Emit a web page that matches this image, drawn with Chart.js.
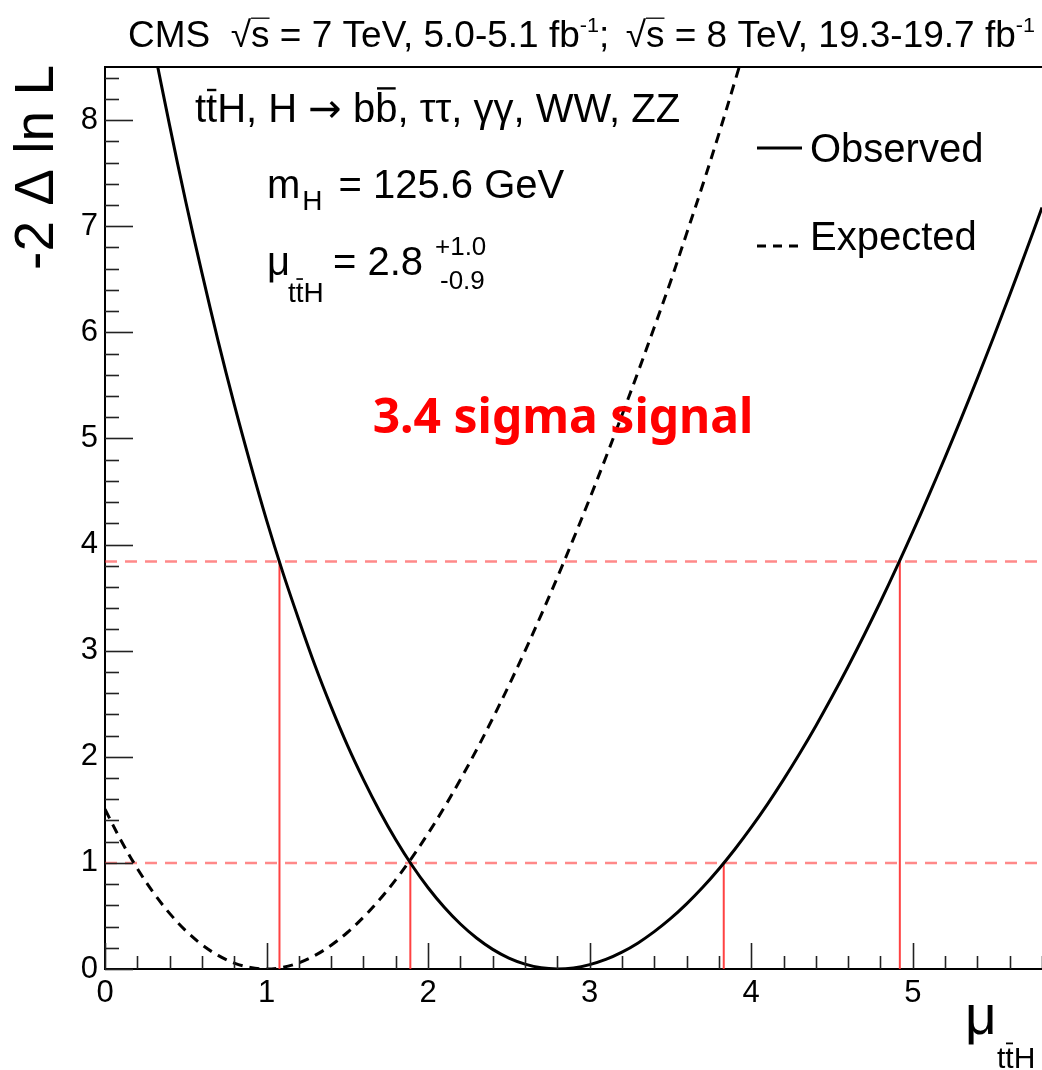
<!DOCTYPE html>
<html><head><meta charset="utf-8">
<script src="https://cdn.jsdelivr.net/npm/chart.js@4/dist/chart.umd.min.js"></script>
<style>html,body{margin:0;padding:0;background:#fff;overflow:hidden}canvas{display:block}</style>
</head><body>
<canvas id="c" width="1042" height="1070"></canvas>
<script>
// ---- data ----
const observedMu = [0.3,0.4,0.5,0.6,0.7,0.8,0.9,1.0,1.1,1.2,1.3,1.4,1.5,1.6,1.7,1.8,1.9,2.0,2.1,2.2,2.3,2.4,2.5,2.6,2.7,2.8,2.9,3.0,3.1,3.2,3.3,3.4,3.5,3.6,3.7,3.8,3.9,4.0,4.1,4.2,4.3,4.4,4.5,4.6,4.7,4.8,4.9,5.0,5.1,5.2,5.3,5.4,5.5,5.6,5.7,5.8,5.9];
const observedNLL = [8.70,7.95,7.23,6.56,5.92,5.32,4.76,4.23,3.74,3.29,2.86,2.47,2.11,1.785,1.487,1.218,0.978,0.766,0.582,0.424,0.292,0.185,0.103,0.046,0.011,0.0,0.010,0.041,0.090,0.159,0.246,0.352,0.474,0.614,0.770,0.943,1.131,1.334,1.552,1.785,2.031,2.291,2.565,2.851,3.150,3.461,3.785,4.119,4.465,4.822,5.189,5.566,5.954,6.352,6.759,7.175,7.600];
const expectedMu = [0.0,0.1,0.2,0.3,0.4,0.5,0.6,0.7,0.8,0.9,1.0,1.1,1.2,1.3,1.4,1.5,1.6,1.7,1.8,1.9,2.0,2.1,2.2,2.3,2.4,2.5,2.6,2.7,2.8,2.9,3.0,3.1,3.2,3.3,3.4,3.5,3.6,3.7,3.8,3.9,4.0];
const expectedNLL = [1.505,1.209,0.947,0.719,0.524,0.361,0.229,0.128,0.056,0.014,0.0,0.015,0.058,0.128,0.224,0.344,0.488,0.654,0.842,1.050,1.277,1.522,1.786,2.066,2.362,2.673,2.998,3.338,3.690,4.055,4.432,4.820,5.219,5.628,6.047,6.475,6.93,7.39,7.87,8.37,8.88];
const levels = [1, 3.84];                       // 68% and 95% CL lines
const intervalMu = [1.08, 1.89, 3.83, 4.92];    // where observed curve crosses the levels
const intervalLevel = [3.84, 1, 1, 3.84];
const xTickLabels = ['0','1','2','3','4','5'];
const yTickLabels = ['0','1','2','3','4','5','6','7','8'];
const xRange = [0, 5.80];
const yRange = [0, 8.5];

const FONT = "'Liberation Sans', Arial, Helvetica, sans-serif";

const datasets = [];
datasets.push({label:'Observed', data: observedMu.map((m,i)=>({x:m,y:observedNLL[i]})),
  borderColor:'#000', borderWidth:3, pointRadius:0, tension:0.35, clip:0, order:1});
datasets.push({label:'Expected', data: expectedMu.map((m,i)=>({x:m,y:expectedNLL[i]})),
  borderColor:'#000', borderWidth:3, borderDash:[10,7], pointRadius:0, tension:0.35, clip:0, order:2});
levels.forEach(l=>datasets.push({label:'level', data:[{x:xRange[0],y:l},{x:xRange[1],y:l}],
  borderColor:'rgba(255,40,40,0.55)', borderWidth:2.5, borderDash:[12,8], pointRadius:0, clip:0, order:3}));
intervalMu.forEach((m,i)=>datasets.push({label:'interval', data:[{x:m,y:0},{x:m,y:intervalLevel[i]}],
  borderColor:'rgba(255,45,45,0.9)', borderWidth:2, pointRadius:0, clip:0, order:3}));

function drawRich(ctx, x, y, parts){
  let cx = x;
  for (const p of parts){
    ctx.font = (p.bold?'bold ':'') + p.size + 'px ' + (p.family||FONT);
    const w = ctx.measureText(p.t).width;
    const by = y + (p.dy||0);
    ctx.fillText(p.t, cx, by);
    if (p.ol){
      ctx.save(); ctx.lineWidth = Math.max(1.2, p.size*0.06);
      const oy = by - p.size*p.ol;
      ctx.beginPath(); ctx.moveTo(cx+ w*0.08, oy); ctx.lineTo(cx + w*0.92, oy); ctx.stroke(); ctx.restore();
    }
    if (p.sqrtOl!==undefined){
      ctx.save(); ctx.lineWidth = 1.3;
      const oy = by - p.size*0.80;
      ctx.beginPath(); ctx.moveTo(cx, oy); ctx.lineTo(cx + w + p.sqrtOl, oy); ctx.stroke(); ctx.restore();
    }
    cx += w + (p.gap||0);
  }
  return cx - x;
}
function measureRich(ctx, parts){
  let w=0; for(const p of parts){ctx.font=(p.bold?'bold ':'')+p.size+'px '+(p.family||FONT); w+=ctx.measureText(p.t).width+(p.gap||0);} return w;
}

const rootPlugin = {
  id:'rootStyle',
  afterDatasetsDraw(chart){
    const {ctx, chartArea:a, scales:{x,y}} = chart;
    ctx.save();
    ctx.strokeStyle='#000'; ctx.lineWidth=2;
    ctx.beginPath(); ctx.moveTo(a.left, a.top); ctx.lineTo(a.right, a.top); ctx.stroke();
    ctx.strokeStyle='#222'; ctx.lineWidth=1.6;
    for (let i=0;i*0.2<=yRange[1]+1e-9;i++){
      const py = Math.round(y.getPixelForValue(i*0.2))+0.5; const L = (i%5===0)?28:14;
      ctx.beginPath(); ctx.moveTo(a.left, py); ctx.lineTo(a.left+L, py); ctx.stroke();
    }
    for (let i=0;i*0.2<=xRange[1]+1e-9;i++){
      const px = Math.round(x.getPixelForValue(i*0.2))+0.5; const L = (i%5===0)?26:13;
      ctx.beginPath(); ctx.moveTo(px, a.bottom); ctx.lineTo(px, a.bottom-L); ctx.stroke();
    }
    ctx.restore();

    ctx.save();
    ctx.fillStyle='#000'; ctx.strokeStyle='#000'; ctx.textBaseline='alphabetic'; ctx.textAlign='left';
    const TS = 36;
    const tparts = [
      {t:'CMS', size:TS, gap:20},
      {t:'\u221A', size:TS},{t:'s', size:TS, sqrtOl:0},
      {t:' = 7 TeV, 5.0-5.1 fb', size:TS},{t:'-1', size:21, dy:-15},
      {t:';', size:TS, gap:16},
      {t:'\u221A', size:TS},{t:'s', size:TS, sqrtOl:0},
      {t:' = 8 TeV, 19.3-19.7 fb', size:TS},{t:'-1', size:21, dy:-15}
    ];
    const tw = measureRich(ctx, tparts);
    ctx.translate(128, 47); ctx.scale(907/tw, 1);
    drawRich(ctx, 0, 0, tparts);
    ctx.restore();

    ctx.save();
    ctx.fillStyle='#000'; ctx.strokeStyle='#000'; ctx.textAlign='left'; ctx.textBaseline='alphabetic';
    drawRich(ctx, 195, 122, [
      {t:'t', size:40},{t:'t', size:40, ol:0.80},{t:'H, H ', size:40},
      {t:'\u2192', size:40, family:"'DejaVu Sans', sans-serif"},{t:' b', size:40},{t:'b', size:40, ol:0.84},
      {t:', \u03C4\u03C4, \u03B3\u03B3, WW, ZZ', size:40}
    ]);
    drawRich(ctx, 267, 198, [{t:'m', size:40, gap:2},{t:'H', size:28, dy:12, gap:16},{t:'= 125.6 GeV', size:40}]);
    drawRich(ctx, 267, 275, [{t:'\u03BC', size:40}]);
    drawRich(ctx, 288, 302, [{t:'t', size:28},{t:'t', size:28, ol:0.82},{t:'H', size:28}]);
    drawRich(ctx, 333, 275, [{t:'= 2.8', size:40}]);
    drawRich(ctx, 435, 255, [{t:'+1.0', size:26}]);
    drawRich(ctx, 440, 289, [{t:'-0.9', size:26}]);
    ctx.lineWidth=3; ctx.beginPath(); ctx.moveTo(757,148); ctx.lineTo(802,148); ctx.stroke();
    ctx.setLineDash([9,7]); ctx.beginPath(); ctx.moveTo(757,246); ctx.lineTo(804,246); ctx.stroke(); ctx.setLineDash([]);
    drawRich(ctx, 810, 162, [{t:'Observed', size:40}]);
    drawRich(ctx, 810, 250, [{t:'Expected', size:40}]);
    ctx.save(); ctx.translate(53, 65); ctx.rotate(-Math.PI/2); ctx.textAlign='right';
    ctx.font = '55px ' + FONT; ctx.fillText('-2 \u0394 ln L', 0, 0); ctx.restore();
    drawRich(ctx, 965, 1034, [{t:'\u03BC', size:55}]);
    drawRich(ctx, 997, 1068, [{t:'t', size:30},{t:'t', size:30, ol:0.82},{t:'H', size:30}]);
    ctx.fillStyle='#ff0000'; ctx.textAlign='center';
    ctx.font = "bold 48px 'Noto Sans', 'Open Sans', sans-serif";
    ctx.fillText('3.4 sigma signal', 563, 433);
    ctx.restore();
  }
};

new Chart(document.getElementById('c'), {
  type:'line',
  data:{datasets},
  options:{
    responsive:false, animation:false, devicePixelRatio:1,
    layout:{padding:{top:67, right:0, left:0, bottom:0}},
    plugins:{legend:{display:false}, tooltip:{enabled:false}, title:{display:false}},
    scales:{
      x:{type:'linear', min:xRange[0], max:xRange[1],
        grid:{display:true, drawOnChartArea:false, drawTicks:false},
        border:{display:true, color:'#000', width:2},
        ticks:{stepSize:1, includeBounds:false, autoSkip:false, maxRotation:0, padding:6, color:'#000',
          font:{family:FONT, size:31},
          callback:(v)=> Number.isInteger(v) && xTickLabels[v]!==undefined ? xTickLabels[v] : ''},
        afterFit:(s)=>{s.height=101;}},
      y:{type:'linear', min:yRange[0], max:yRange[1],
        grid:{display:true, drawOnChartArea:false, drawTicks:false},
        border:{display:true, color:'#000', width:2},
        ticks:{stepSize:1, includeBounds:false, autoSkip:false, padding:7, color:'#000',
          font:{family:FONT, size:31},
          callback:(v)=> Number.isInteger(v) && yTickLabels[v]!==undefined ? yTickLabels[v] : ''},
        afterFit:(s)=>{s.width=105;}}
    }
  },
  plugins:[rootPlugin]
});
</script>
</body></html>
